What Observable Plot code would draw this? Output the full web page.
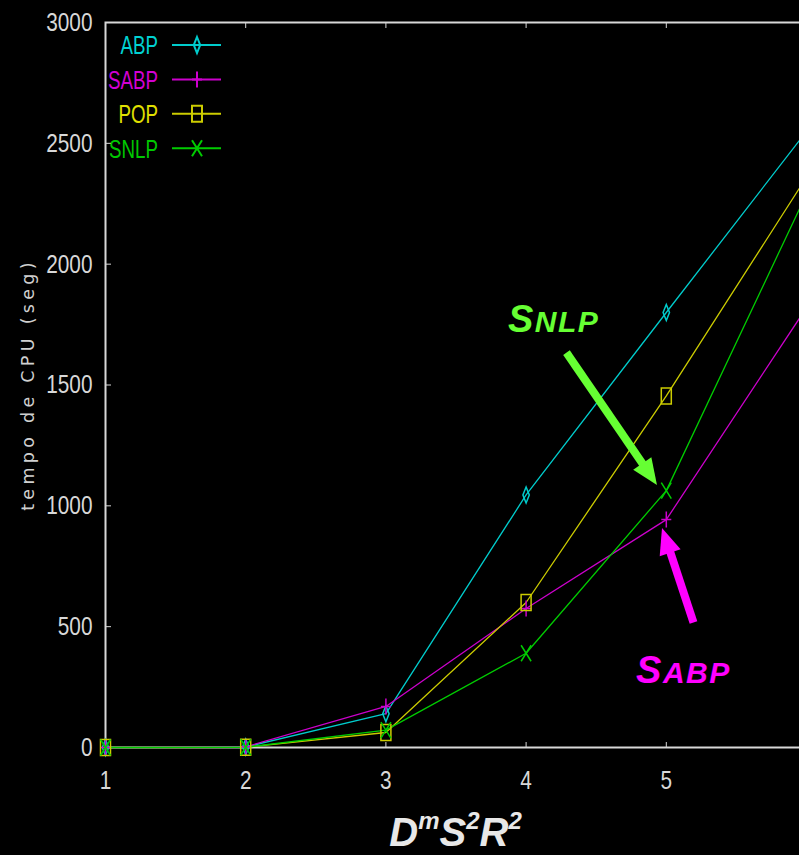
<!DOCTYPE html>
<html><head><meta charset="utf-8">
<script src="https://cdn.jsdelivr.net/npm/d3@7"></script>
<script src="https://cdn.jsdelivr.net/npm/@observablehq/plot@0.6"></script>
<style>
html,body{margin:0;padding:0;background:#000;overflow:hidden;}
#chart svg{display:block;background:#000;}
</style></head><body><div id="chart"></div>
<script>
// ---- data ----
const xValues = [1, 2, 3, 4, 5, 6];
const seriesNames = ["ABP", "SABP", "POP", "SNLP"];
const ABP  = [0, 2, 140, 1045, 1800, 2550];
const SABP = [0, 3, 170, 575, 943, 1820];
const POP  = [0, 1, 62, 600, 1455, 2360];
const SNLP = [0, 1, 72, 390, 1063, 2290];
const xTicks = [1, 2, 3, 4, 5];
const yTicks = [0, 500, 1000, 1500, 2000, 2500, 3000];
const yLabel = "tempo de CPU (seg)";
const xLabelParts = ["D", "m", "S", "2", "R", "2"];
const xLabelSup = [false, true, false, true, false, true];
// annotations (in data units)
const annotationNames = ["SNLP", "SABP"];
const annotationTextX = [3.874, 4.788];
const annotationTextY = [1717, 265];
const arrowX1 = [4.288, 5.194];
const arrowY1 = [1634, 517];
const arrowX2 = [4.937, 4.973];
const arrowY2 = [1084, 906];

// ---- styles ----
const lineColors = ["#00cccc", "#cc00cc", "#cccc00", "#00cc00"];
const legendColors = ["#00d2d2", "#d200d2", "#e0e000", "#00c800"];
const annotationColors = ["#66ff33", "#ff00ff"];
const axisColor = "#d8d8d8";
const narrowFont = "'Liberation Sans Narrow', 'Liberation Sans', sans-serif";

const valuesBy = {ABP, SABP, POP, SNLP};
const table = seriesNames.flatMap(s => xValues.map((x, i) => ({series: s, x, y: valuesBy[s][i]})));

function sym(fn) { return {draw(ctx) { fn(ctx); }}; }
const symbols = {
  ABP: sym(c => { c.moveTo(0, -8); c.lineTo(3.2, 0); c.lineTo(0, 8); c.lineTo(-3.2, 0); c.closePath(); }),
  SABP: sym(c => { c.moveTo(0, -8); c.lineTo(0, 8); c.moveTo(-5, 0); c.lineTo(5, 0); }),
  POP: sym(c => { c.moveTo(-5, -8); c.lineTo(5, -8); c.lineTo(5, 8); c.lineTo(-5, 8); c.closePath(); }),
  SNLP: sym(c => { c.moveTo(-5, -8); c.lineTo(5, 8); c.moveTo(5, -8); c.lineTo(-5, 8); })
};

const fmt = d => String(d);

const plot = Plot.plot({
  width: 799,
  height: 855,
  marginLeft: 105,
  marginRight: -7,
  marginTop: 22,
  marginBottom: 108,
  style: {background: "#000", color: axisColor, fontFamily: narrowFont, fontSize: "26px"},
  x: {domain: [1, 6], label: null},
  y: {domain: [0, 3000], label: null},
  marks: [
    Plot.frame({stroke: axisColor, strokeWidth: 2}),
    Plot.axisY({ticks: yTicks, tickSize: -6, fill: "none", stroke: axisColor, label: null}),
    Plot.axisY({ticks: yTicks, tickSize: 0, tickPadding: 13, fill: axisColor, tickFormat: fmt, label: null}),
    Plot.axisX({ticks: xTicks, anchor: "bottom", tickSize: -5, fill: "none", stroke: axisColor, label: null}),
    Plot.axisX({ticks: xTicks, anchor: "top", tickSize: -5, fill: "none", stroke: axisColor, label: null}),
    Plot.axisX({ticks: xTicks, anchor: "bottom", tickSize: 0, tickPadding: 23, fill: axisColor, tickFormat: fmt, label: null}),
    ...seriesNames.map((s, k) => Plot.line(table.filter(d => d.series === s),
      {x: "x", y: "y", stroke: lineColors[k], strokeWidth: 1.3})),
    ...seriesNames.map((s, k) => Plot.dot(table.filter(d => d.series === s),
      {x: "x", y: "y", stroke: lineColors[k], fill: "none", strokeWidth: 1.5, symbol: symbols[s]})),
    // arrow shafts (heads added below as filled triangles)
    ...annotationNames.map((n, k) => Plot.link([k], {
      x1: i => arrowX1[i], y1: i => arrowY1[i],
      x2: i => arrowX1[i] + (arrowX2[i] - arrowX1[i]) * 0.85,
      y2: i => arrowY1[i] + (arrowY2[i] - arrowY1[i]) * 0.85,
      stroke: annotationColors[k], strokeWidth: 8
    }))
  ]
});
document.getElementById("chart").appendChild(plot);

const svg = d3.select(plot);
// condense the pixel-style tick labels
svg.selectAll('g[aria-label="y-axis tick label"] text, g[aria-label="x-axis tick label"] text')
  .attr("transform", function () { return (this.getAttribute("transform") || "") + " scale(0.8,1)"; });

const sx = plot.scale("x"), sy = plot.scale("y");

// filled arrowheads
annotationNames.forEach((n, k) => {
  const ax = sx.apply(arrowX1[k]), ay = sy.apply(arrowY1[k]);
  const bx = sx.apply(arrowX2[k]), by = sy.apply(arrowY2[k]);
  const len = Math.hypot(bx - ax, by - ay);
  const ux = (bx - ax) / len, uy = (by - ay) / len;
  const L = 26, W = 11;
  const cx = bx - ux * L, cy = by - uy * L;
  svg.append("polygon")
    .attr("points", [[bx, by], [cx - uy * W, cy + ux * W], [cx + uy * W, cy - ux * W]].map(p => p.join(",")).join(" "))
    .attr("fill", annotationColors[k]);
});

// legend
const lg = svg.append("g").attr("font-family", narrowFont).attr("font-size", 26);
seriesNames.forEach((s, k) => {
  const y = 45 + k * 34.4;
  lg.append("text").attr("transform", `translate(158,${y}) scale(0.72,1)`)
    .attr("text-anchor", "end").attr("dy", "0.36em").attr("fill", legendColors[k]).text(s);
  lg.append("line").attr("x1", 172).attr("x2", 221).attr("y1", y).attr("y2", y)
    .attr("stroke", lineColors[k]).attr("stroke-width", 2);
  const p = d3.path(); symbols[s].draw(p);
  lg.append("path").attr("transform", `translate(197,${y})`).attr("d", p.toString())
    .attr("fill", "none").attr("stroke", lineColors[k]).attr("stroke-width", 2);
});

// y label
svg.append("text").attr("transform", `translate(28,${(sy.apply(0) + sy.apply(3000)) / 2}) rotate(-90)`)
  .attr("text-anchor", "middle").attr("dy", "0.35em")
  .attr("font-family", "'DejaVu Sans', sans-serif").attr("font-size", 17.5)
  .attr("letter-spacing", 4.3).attr("fill", "#d0d0d0").text(yLabel);

// x label
const xl = svg.append("text").attr("x", (sx.apply(1) + sx.apply(6)) / 2).attr("y", 846)
  .attr("text-anchor", "middle").attr("font-family", "'Liberation Sans', Arial, sans-serif")
  .attr("font-weight", "bold").attr("font-style", "italic").attr("fill", "#e8e8e8");
xLabelParts.forEach((t, i) => {
  const sup = xLabelSup[i];
  const prevSup = i > 0 && xLabelSup[i - 1];
  xl.append("tspan").attr("font-size", sup ? 24 : 40)
    .attr("dy", sup ? -17 : (prevSup ? 17 : 0)).text(t);
});

// annotation labels (small caps style)
annotationNames.forEach((n, k) => {
  const t = svg.append("text").attr("x", sx.apply(annotationTextX[k])).attr("y", sy.apply(annotationTextY[k]))
    .attr("text-anchor", "start")
    .attr("font-family", "'Liberation Sans', Arial, sans-serif").attr("font-weight", "bold")
    .attr("font-style", "italic").attr("letter-spacing", 1.5).attr("fill", annotationColors[k]);
  t.append("tspan").attr("font-size", 38).text(n.slice(0, 1));
  t.append("tspan").attr("font-size", 30).text(n.slice(1));
});
</script>
</body></html>
